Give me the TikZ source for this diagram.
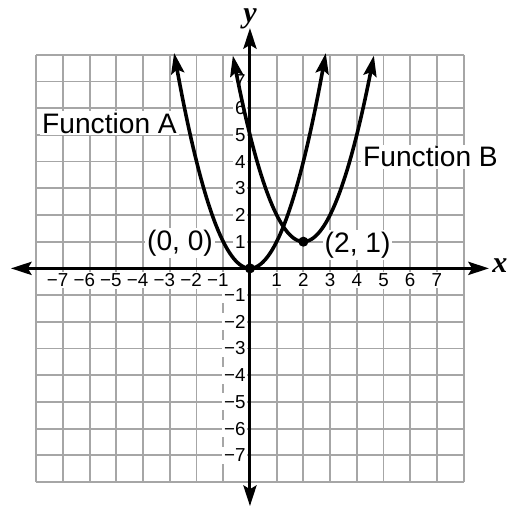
\documentclass[tikz,border=0pt]{standalone}
\usepackage{fontspec}
\setmainfont{Liberation Sans}
\newfontfamily\axisfont{Liberation Serif}
\usetikzlibrary{arrows.meta}

\tikzset{
  gridline/.style={gray!70, line width=1pt},
  axisline/.style={line width=1.6pt, {Stealth[length=11pt,width=7pt,inset=2pt]}-{Stealth[length=11pt,width=7pt,inset=2pt]}},
  curveline/.style={line width=1.9pt, {Stealth[length=11pt,width=7pt,inset=2pt]}-{Stealth[length=11pt,width=7pt,inset=2pt]}},
  ticklabel/.style={fill=white, inner sep=1pt, font=\fontsize{10}{12}\selectfont},
  funclabel/.style={fill=white, inner sep=1pt, font=\fontsize{15}{18}\selectfont},
  axislabel/.style={inner sep=0pt, font=\axisfont\fontsize{16}{18}\selectfont\bfseries\itshape},
  dot/.style={circle, fill=black, inner sep=0pt, minimum size=5.4pt}
}

\begin{document}
\begin{tikzpicture}[x=0.5cm, y=0.5cm]
  \useasboundingbox (-9.36,-8.9) rectangle (10.0,10.05);
  % grid
  \foreach \i in {-8,...,8} {
    \draw[gridline] (\i,-8) -- (\i,8);
    \draw[gridline] (-8,\i) -- (8,\i);
  }
  % tick labels
  \foreach \i in {1,...,7} {
    \node[ticklabel] (xp\i) at (\i,-0.44) {\i};
    \node[ticklabel] (xn\i) at (-\i,-0.44) {\llap{−}\i};
    \node[ticklabel, anchor=east] (yp\i) at (-0.08,\i) {\i};
    \node[ticklabel, anchor=east] (yn\i) at (-0.08,-\i) {−\i};
  }
  % axes
  \coordinate (xl) at (-8.95,0);
  \coordinate (xr) at (8.95,0);
  \coordinate (yb) at (0,-8.9);
  \coordinate (yt) at (0,9.0);
  \draw[axisline] (xl) -- (xr);
  \draw[axisline] (yb) -- (yt);
  \node[axislabel] (xlab) at (9.36,0.09) {x};
  \node[axislabel] (ylab) at (0,9.33) {y};
  % functions
  \draw[curveline] plot[domain=-2.84:2.84, samples=80] (\x,{\x*\x});
  \draw[curveline] plot[domain=-0.64:4.64, samples=80] (\x,{(\x-2)*(\x-2)+1});
  \node[dot] (vA) at (0,0) {};
  \node[dot] (vB) at (2,1) {};
  \node[funclabel] (fA) at (-5.26,5.44) {Function A};
  \node[funclabel] (fB) at (6.76,4.18) {Function B};
  \node[funclabel] (pA) at (-2.62,0.95) {(0, 0)};
  \node[funclabel] (pB) at (4.03,0.87) {(2, 1)};
\end{tikzpicture}
\end{document}
